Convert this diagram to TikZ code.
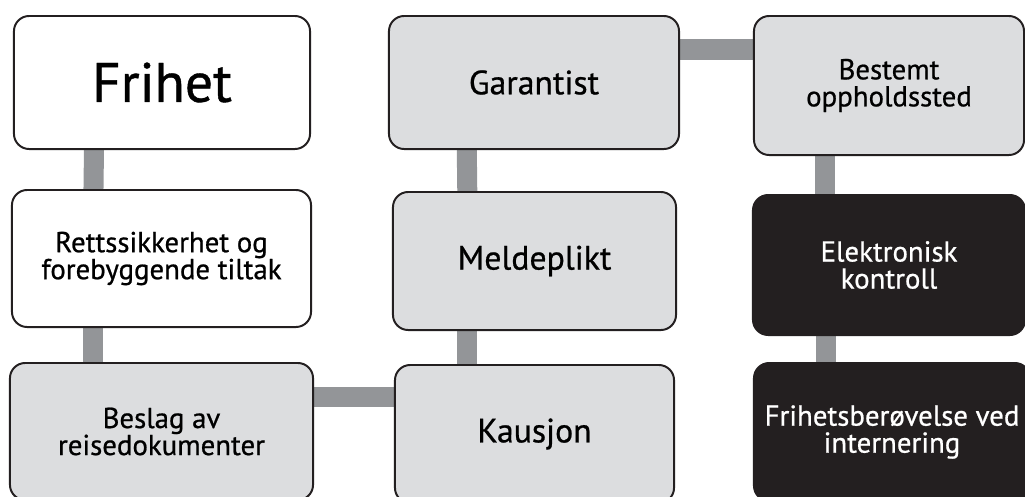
\documentclass[tikz,border=0pt]{standalone}
\usepackage{fontspec}
\setmainfont{PT Sans}
\newfontfamily\boxfont{PT Sans}[FakeBold=0.7]
\usetikzlibrary{backgrounds}

\definecolor{boxline}{HTML}{231F20}
\definecolor{boxgrey}{HTML}{DCDDDF}
\definecolor{barcol}{HTML}{939598}

\tikzset{
  box/.style={draw=boxline, line width=1.4pt, rounded corners=0.38cm, align=center,
    inner sep=0pt, font=\boxfont\fontsize{20.5}{19.2}\selectfont},
  bigtext/.style={font=\boxfont\fontsize{24}{26}\selectfont},
  whitebox/.style={box, fill=white},
  greybox/.style={box, fill=boxgrey},
  blackbox/.style={box, fill=boxline, text=white},
  bar/.style={draw=barcol, line width=0.5cm}
}

\begin{document}
\begin{tikzpicture}[x=0.025cm, y=-0.025cm]
\useasboundingbox (0,0) rectangle (1025,496);
\clip (0,0) rectangle (1025,496);

% left column
\node[whitebox, minimum width=7.4cm, minimum height=3.325cm, font=\boxfont\fontsize{39.5}{40}\selectfont] (frihet) at (162,82.5) {Frihet};
\node[whitebox, minimum width=7.475cm, minimum height=3.425cm] (rett) at (161.5,258.5) {Rettssikkerhet og\\forebyggende tiltak};
\node[greybox, minimum width=7.575cm, minimum height=3.425cm] (beslag) at (161.5,431.5) {Beslag av\\reisedokumenter};

% middle column
\node[greybox, bigtext, minimum width=7.25cm, minimum height=3.325cm] (garantist) at (534,82.5) {Garantist};
\node[greybox, bigtext, minimum width=7.075cm, minimum height=3.45cm] (meldeplikt) at (534.5,261) {Meldeplikt};
\node[greybox, bigtext, minimum width=6.975cm, minimum height=3.45cm] (kausjon) at (534.5,434) {Kausjon};

% right column
\node[greybox, minimum width=6.75cm, minimum height=3.475cm] (bestemt) at (889,85.5) {Bestemt\\oppholdssted};
\node[blackbox, minimum width=6.8cm, minimum height=3.5cm] (elektronisk) at (889,265) {Elektronisk\\kontroll};
\node[blackbox, minimum width=6.9cm, minimum height=3.45cm] (internering) at (892,432) {Frihetsberøvelse ved\\internering};

\begin{pgfonlayer}{background}
\draw[bar] ([xshift=-1.7cm]frihet.south) -- ([xshift=-1.7cm]rett.north);
\draw[bar] ([xshift=-1.7cm]rett.south) -- ([xshift=-1.7cm]beslag.north);
\draw[bar] ([yshift=0.86cm]beslag.east) -- ([yshift=0.86cm]beslag.east -| kausjon.west);
\draw[bar] ([xshift=-1.68cm]kausjon.north) -- ([xshift=-1.68cm]meldeplikt.south);
\draw[bar] ([xshift=-1.68cm]meldeplikt.north) -- ([xshift=-1.68cm]garantist.south);
\draw[bar] ([yshift=0.825cm]garantist.east) -- ([yshift=0.825cm]garantist.east -| bestemt.west);
\draw[bar] ([xshift=-1.59cm]bestemt.south) -- ([xshift=-1.59cm]elektronisk.north);
\draw[bar] ([xshift=-1.58cm]elektronisk.south) -- ([xshift=-1.58cm]elektronisk.south |- internering.north);
\end{pgfonlayer}
\end{tikzpicture}
\end{document}
